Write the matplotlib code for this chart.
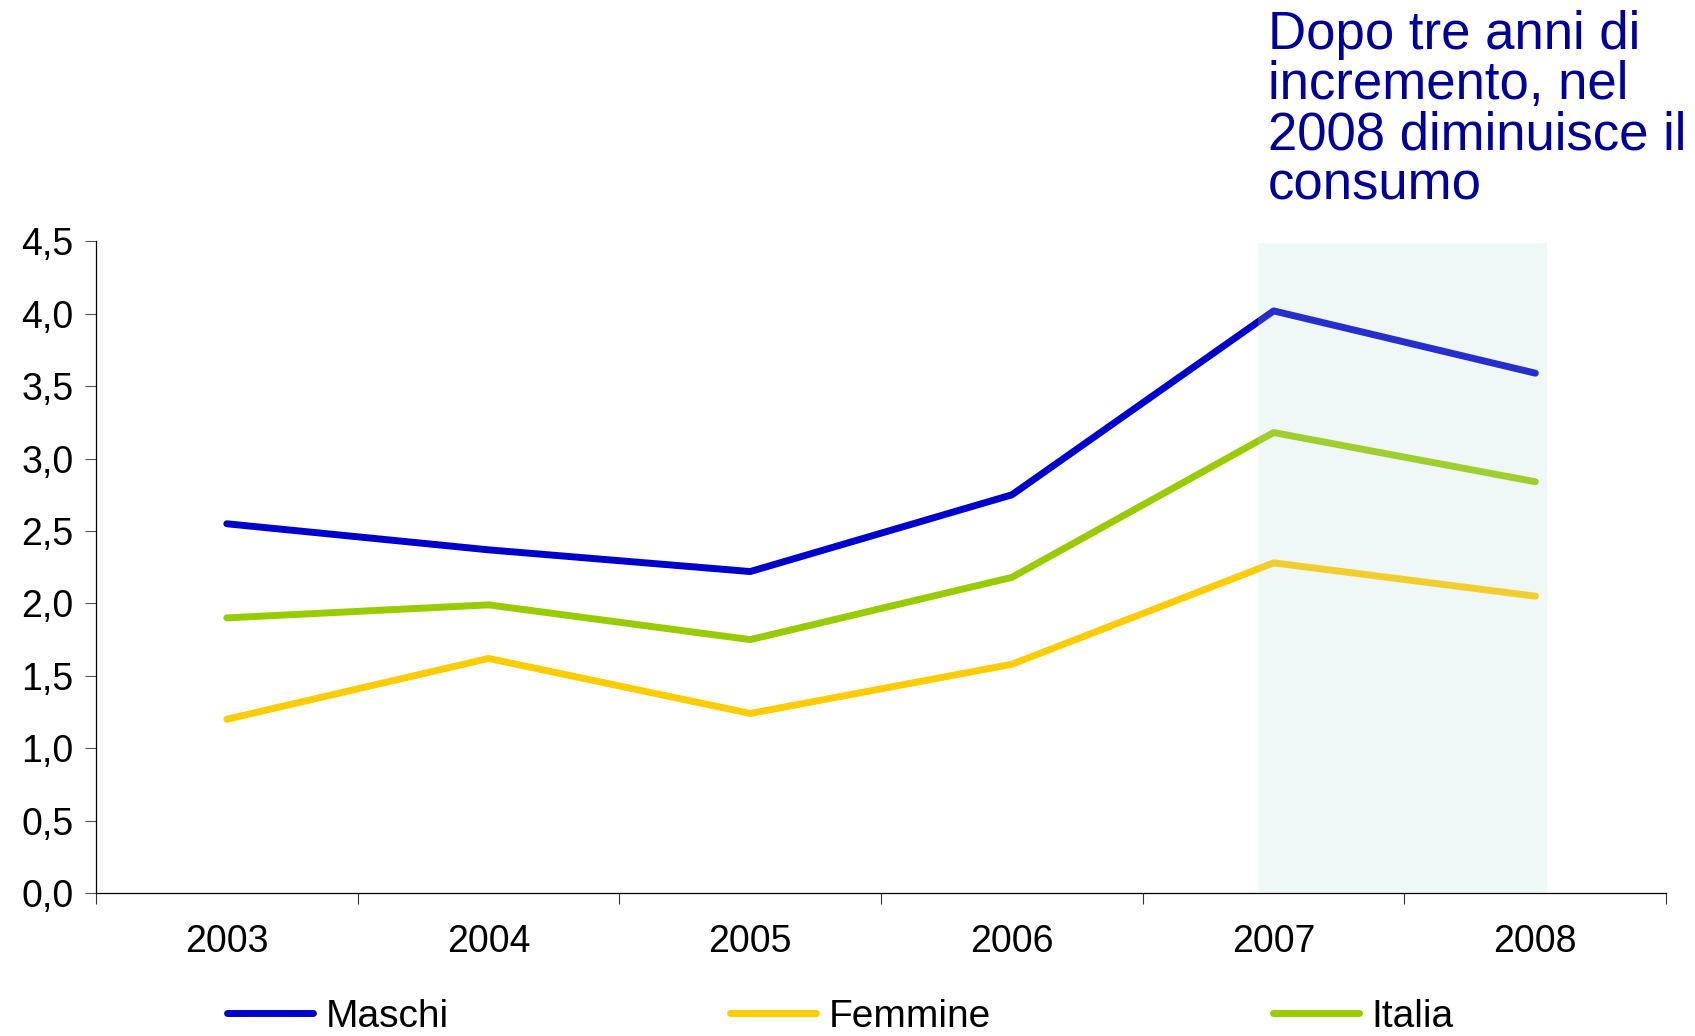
import numpy as np
import matplotlib
matplotlib.use('Agg')
import matplotlib.pyplot as plt

plt.rcParams['font.family'] = ['Liberation Sans', 'DejaVu Sans']

# dati
anni = ['2003', '2004', '2005', '2006', '2007', '2008']
maschi = [2.55, 2.37, 2.22, 2.75, 4.02, 3.59]
femmine = [1.20, 1.62, 1.24, 1.58, 2.28, 2.05]
italia = [1.90, 1.99, 1.75, 2.18, 3.18, 2.84]
nota = 'Dopo tre anni di\nincremento, nel\n2008 diminuisce il\nconsumo'

fig = plt.figure(figsize=(16.95, 10.36), dpi=100)
ax = fig.add_axes([0.0566, 0.138, 0.9264, 0.629])

x = np.arange(len(anni))
lw = 5
ax.plot(x, maschi, color='#0000CC', lw=lw, solid_capstyle='round', label='Maschi', zorder=2)
ax.plot(x, femmine, color='#FFCC00', lw=lw, solid_capstyle='round', label='Femmine', zorder=2)
ax.plot(x, italia, color='#99CC00', lw=lw, solid_capstyle='round', label='Italia', zorder=2)

# zona evidenziata 2007-2008 (sopra le linee, semi trasparente)
ax.axvspan(3.94, 5.045, ymin=0, ymax=0.997, color='#B9DADA', alpha=0.21, lw=0, zorder=3)

ax.set_xlim(-0.5, len(anni) - 0.5)
ax.set_ylim(0, 4.5)
ax.set_yticks(np.arange(0, 4.51, 0.5))
ax.set_yticklabels([f'{v:.1f}'.replace('.', ',') for v in np.arange(0, 4.51, 0.5)])

ax.set_xticks(np.arange(-0.5, len(anni), 1.0))
ax.set_xticklabels([])
ax.set_xticks(x, minor=True)
ax.set_xticklabels(anni, minor=True)
ax.tick_params(axis='x', which='major', direction='out', length=8, width=0.8, color='#333333')
ax.tick_params(axis='x', which='minor', length=0, pad=22, labelsize=27)
ax.tick_params(axis='y', direction='out', length=8, width=0.8, color='#555555', pad=8, labelsize=27)

for s in ['top', 'right']:
    ax.spines[s].set_visible(False)
for s in ['left', 'bottom']:
    ax.spines[s].set_linewidth(0.9)

fig.text(1268 / 1695, 1 - 10 / 1036, nota, color='#000099', fontsize=38,
         ha='left', va='top', linespacing=1.0)

fig.legend(loc='center left', bbox_to_anchor=(227 / 1695, 1 - 1017 / 1036), ncol=3,
           frameon=False, fontsize=28, handlelength=2.2, handletextpad=0.33,
           columnspacing=7.25, borderaxespad=0, borderpad=0)

fig.savefig('out.png', dpi=100)
